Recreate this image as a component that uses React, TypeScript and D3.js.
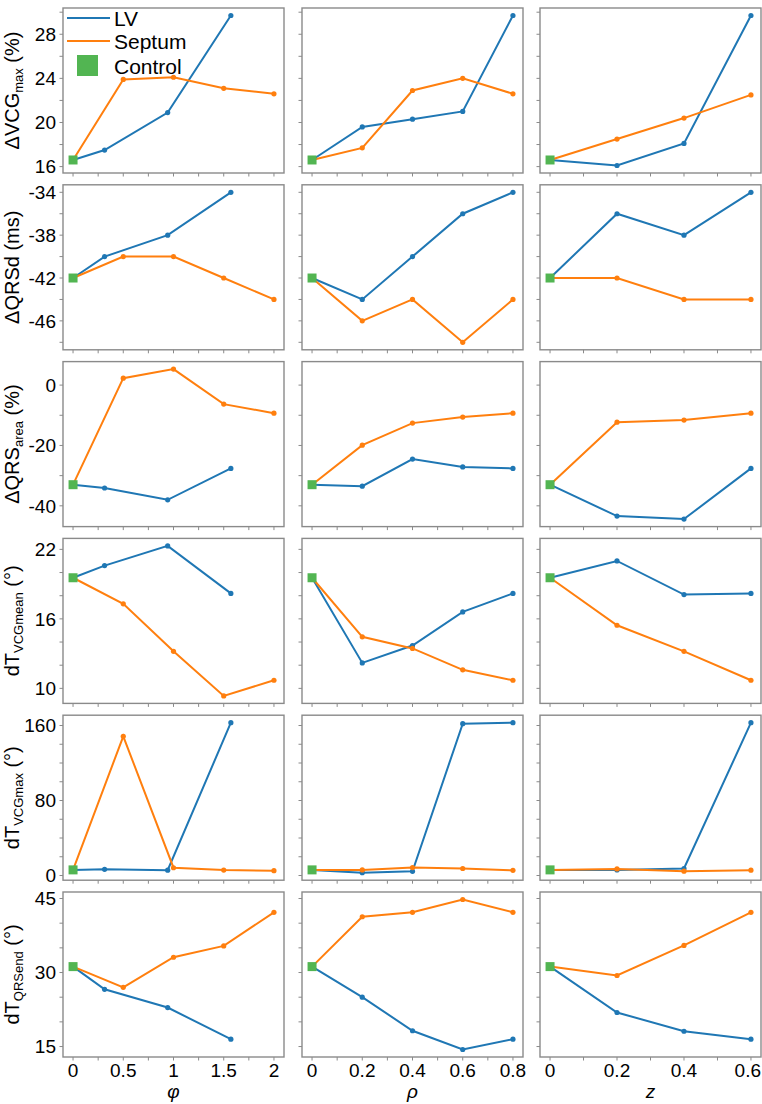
import React, { useEffect, useRef } from 'react'
import * as d3 from 'd3'

// x values of each column (LV and Septum are sampled differently for phi)
const phiLV = [0, 0.314, 0.942, 1.571]
const phiSeptum = [0, 0.5, 1, 1.5, 2]
const rhoVals = [0, 0.2, 0.4, 0.6, 0.8]
const zVals = [0, 0.2, 0.4, 0.6]

const xNames = ['φ', 'ρ', 'z']
const xTickLabels = [
  [0, 0.5, 1, 1.5, 2],
  [0, 0.2, 0.4, 0.6, 0.8],
  [0, 0.2, 0.4, 0.6],
]
const xMinorStep = [0.25, 0.1, 0.1]

// one row per metric, each holds [phi, rho, z] columns
const vcgmaxLV = [[16.6, 17.5, 20.9, 29.7], [16.6, 19.6, 20.3, 21.0, 29.7], [16.6, 16.1, 18.1, 29.7]]
const vcgmaxSeptum = [[16.6, 23.9, 24.1, 23.1, 22.6], [16.6, 17.7, 22.9, 24.0, 22.6], [16.6, 18.5, 20.4, 22.5]]
const qrsdLV = [[-42, -40, -38, -34], [-42, -44, -40, -36, -34], [-42, -36, -38, -34]]
const qrsdSeptum = [[-42, -40, -40, -42, -44], [-42, -46, -44, -48, -44], [-42, -42, -44, -44]]
const qrsareaLV = [[-33, -34.1, -38, -27.6], [-33, -33.5, -24.5, -27.1, -27.6], [-33, -43.4, -44.4, -27.6]]
const qrsareaSeptum = [[-33, 2.3, 5.3, -6.3, -9.3], [-33, -19.9, -12.6, -10.6, -9.3], [-33, -12.3, -11.6, -9.3]]
const tvcgmeanLV = [[19.55, 20.6, 22.3, 18.2], [19.55, 12.2, 13.7, 16.6, 18.2], [19.55, 21.0, 18.1, 18.2]]
const tvcgmeanSeptum = [[19.55, 17.3, 13.2, 9.35, 10.7], [19.55, 14.45, 13.45, 11.6, 10.7], [19.55, 15.45, 13.2, 10.7]]
const tvcgmaxLV = [[6, 6.6, 5.7, 163], [6, 3, 4.5, 162, 163], [6, 6, 7.5, 163]]
const tvcgmaxSeptum = [[6, 148.5, 8.3, 5.8, 5.2], [6, 6, 8.5, 7.5, 5.5], [6, 7, 4.6, 5.7]]
const tqrsendLV = [[31.2, 26.6, 22.9, 16.5], [31.2, 25.0, 18.2, 14.4, 16.5], [31.2, 21.9, 18.1, 16.5]]
const tqrsendSeptum = [[31.2, 27.0, 33.1, 35.4, 42.2], [31.2, 41.3, 42.2, 44.8, 42.2], [31.2, 29.4, 35.5, 42.2]]

const controls = [16.6, -42, -33, 19.55, 6, 31.2]
const rowLV = [vcgmaxLV, qrsdLV, qrsareaLV, tvcgmeanLV, tvcgmaxLV, tqrsendLV]
const rowSeptum = [vcgmaxSeptum, qrsdSeptum, qrsareaSeptum, tvcgmeanSeptum, tvcgmaxSeptum, tqrsendSeptum]
const yTickLabels = [
  [16, 20, 24, 28],
  [-34, -38, -42, -46],
  [0, -20, -40],
  [22, 16, 10],
  [160, 80, 0],
  [45, 30, 15],
]
const yMinorStep = [2, 2, 10, 2, 20, 5]
// [main, subscript, tail]
const yLabels = [
  ['ΔVCG', 'max', ' (%)'],
  ['ΔQRSd (ms)', '', ''],
  ['ΔQRS', 'area', ' (%)'],
  ['dT', 'VCGmean', ' (°)'],
  ['dT', 'VCGmax', ' (°)'],
  ['dT', 'QRSend', ' (°)'],
]

const blue = '#1f77b4'
const orange = '#ff7f0e'
const green = '#52b552'
const frameColor = '#8a8a8a'
const font = '"Liberation Sans", Arial, sans-serif'

export default function App() {
  const ref = useRef<SVGSVGElement>(null)

  useEffect(() => {
    document.body.style.margin = '0'
    const svg = d3.select(ref.current)
    svg.selectAll('*').remove()

    const W = 762
    const colLeft = [63, 302, 540]
    const panelW = 221
    const panelH = 165
    const rowTop = (i: number) => 8 + i * 176.8

    const xCols = [
      { lv: phiLV, sep: phiSeptum },
      { lv: rhoVals, sep: rhoVals },
      { lv: zVals, sep: zVals },
    ]

    // x scales with matplotlib style 5% margins
    const xScales = xCols.map((c, j) => {
      const ext = d3.extent(c.sep.concat(c.lv)) as [number, number]
      const pad = (ext[1] - ext[0]) * 0.05
      return d3.scaleLinear().domain([ext[0] - pad, ext[1] + pad]).range([colLeft[j], colLeft[j] + panelW])
    })

    for (let r = 0; r < 6; r++) {
      const top = rowTop(r)
      const all = d3.merge([d3.merge(rowLV[r]), d3.merge(rowSeptum[r]), [controls[r]]]) as number[]
      const ext = d3.extent(all) as [number, number]
      const pad = (ext[1] - ext[0]) * 0.05
      const y = d3.scaleLinear().domain([ext[0] - pad, ext[1] + pad]).range([top + panelH, top])

      for (let c = 0; c < 3; c++) {
        const x = xScales[c]
        const g = svg.append('g')

        // frame
        g.append('rect')
          .attr('x', colLeft[c])
          .attr('y', top)
          .attr('width', panelW)
          .attr('height', panelH)
          .attr('fill', 'none')
          .attr('stroke', frameColor)
          .attr('stroke-width', 1.4)

        // y ticks
        const yd = y.domain()
        const yTicks = d3.range(Math.ceil(yd[0] / yMinorStep[r]) * yMinorStep[r], yd[1], yMinorStep[r])
        g.selectAll('.ytick')
          .data(yTicks)
          .enter()
          .append('line')
          .attr('x1', colLeft[c] - 3.5)
          .attr('x2', colLeft[c])
          .attr('y1', (d) => y(d))
          .attr('y2', (d) => y(d))
          .attr('stroke', frameColor)
          .attr('stroke-width', 1)

        // x ticks
        const xd = x.domain()
        const xTicks = d3.range(0, xd[1], xMinorStep[c])
        g.selectAll('.xtick')
          .data(xTicks)
          .enter()
          .append('line')
          .attr('x1', (d) => x(d))
          .attr('x2', (d) => x(d))
          .attr('y1', top + panelH)
          .attr('y2', top + panelH + 3.5)
          .attr('stroke', frameColor)
          .attr('stroke-width', 1)

        if (c === 0) {
          g.selectAll('.ylab')
            .data(yTickLabels[r])
            .enter()
            .append('text')
            .attr('x', colLeft[c] - 7)
            .attr('y', (d) => y(d))
            .attr('dy', '0.36em')
            .attr('text-anchor', 'end')
            .style('font-family', font)
            .style('font-size', '19px')
            .text((d) => String(d))

          const lab = yLabels[r]
          const t = g
            .append('text')
            .attr('transform', 'translate(19,' + (top + panelH / 2) + ') rotate(-90)')
            .attr('text-anchor', 'middle')
            .style('font-family', font)
            .style('font-size', '20px')
          t.append('tspan').text(lab[0])
          if (lab[1]) {
            t.append('tspan').attr('dy', 4).style('font-size', '13px').text(lab[1])
            t.append('tspan').attr('dy', -4).text(lab[2])
          }
        }

        if (r === 5) {
          // keep the last label inside the page edge
          g.selectAll('.xlab')
            .data(xTickLabels[c])
            .enter()
            .append('text')
            .attr('x', (d) => (x(d) + 14 > W ? W - 1 : x(d)))
            .attr('y', top + panelH + 20)
            .attr('text-anchor', (d) => (x(d) + 14 > W ? 'end' : 'middle'))
            .style('font-family', font)
            .style('font-size', '19px')
            .text((d) => String(d))

          g.append('text')
            .attr('x', colLeft[c] + panelW / 2)
            .attr('y', 1098)
            .attr('text-anchor', 'middle')
            .style('font-family', font)
            .style('font-style', 'italic')
            .style('font-size', '19px')
            .text(xNames[c])
        }

        const line = d3
          .line<[number, number]>()
          .x((d) => x(d[0]))
          .y((d) => y(d[1]))

        const series = [
          { xs: xCols[c].lv, ys: rowLV[r][c], color: blue },
          { xs: xCols[c].sep, ys: rowSeptum[r][c], color: orange },
        ]
        series.forEach((s) => {
          const pts = s.xs.map((v, i) => [v, s.ys[i]] as [number, number])
          g.append('path')
            .datum(pts)
            .attr('d', line)
            .attr('fill', 'none')
            .attr('stroke', s.color)
            .attr('stroke-width', 2)
          g.selectAll(null)
            .data(pts)
            .enter()
            .append('circle')
            .attr('cx', (d) => x(d[0]))
            .attr('cy', (d) => y(d[1]))
            .attr('r', 2.6)
            .attr('fill', s.color)
        })

        // control marker
        g.append('rect')
          .attr('x', x(0) - 4.5)
          .attr('y', y(controls[r]) - 4.5)
          .attr('width', 9)
          .attr('height', 9)
          .attr('fill', green)
      }
    }

    // legend in the first panel
    const leg = svg.append('g').style('font-family', font).style('font-size', '21px')
    const items = [
      { label: 'LV', color: blue, y: 18 },
      { label: 'Septum', color: orange, y: 41 },
    ]
    items.forEach((it) => {
      leg.append('line')
        .attr('x1', 67)
        .attr('x2', 110)
        .attr('y1', it.y)
        .attr('y2', it.y)
        .attr('stroke', it.color)
        .attr('stroke-width', 2)
      leg.append('text').attr('x', 114).attr('y', it.y).attr('dy', '0.36em').text(it.label)
    })
    leg.append('rect').attr('x', 77).attr('y', 55).attr('width', 21).attr('height', 21).attr('fill', green)
    leg.append('text').attr('x', 114).attr('y', 66).attr('dy', '0.36em').text('Control')
  }, [])

  return <svg ref={ref} width={762} height={1104} style={{ display: 'block', background: 'white' }} />
}
